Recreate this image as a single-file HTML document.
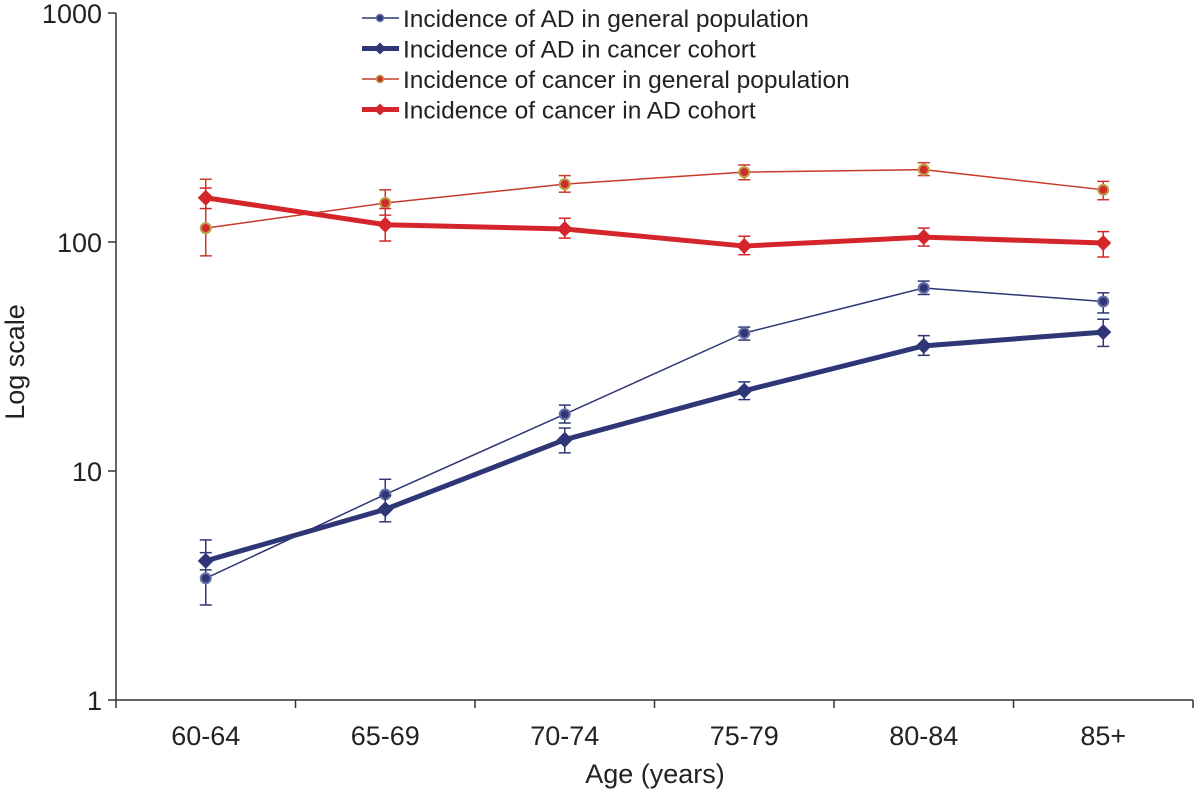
<!DOCTYPE html>
<html><head><meta charset="utf-8"><style>
body{margin:0;background:#fff}
svg{display:block;font-family:"Liberation Sans",Arial,sans-serif}
</style></head><body>
<svg id="chart" width="1200" height="798" viewBox="0 0 1200 798"></svg>
<script>
const categories=["60-64","65-69","70-74","75-79","80-84","85+"];
const yTicks=[1,10,100,1000];
const adGeneral=[3.4,7.9,17.7,40,63,55];
const adGeneralLo=[2.6,6.9,16.2,37.3,59,49];
const adGeneralHi=[5.0,9.2,19.4,42.5,67.5,60];
const adCancer=[4.05,6.8,13.7,22.4,35.2,40.4];
const adCancerLo=[3.7,6.0,12.0,20.5,32,35];
const adCancerHi=[4.4,7.8,15.4,24.5,39,46];
const cancerGeneral=[115,148,179,202,207,169];
const cancerGeneralLo=[87,131,165,187,195,153];
const cancerGeneralHi=[188,169,195,217,222,184];
const cancerAD=[156,119,114,96,105,99];
const cancerADLo=[140,101,104,88,96,86];
const cancerADHi=[172,140,127,106,115,111];

const NS="http://www.w3.org/2000/svg";
const svg=document.getElementById('chart');
const x0=116,x1=1193,yBase=700,decade=229;
const step=(x1-x0)/categories.length;
function xPos(i){return x0+step*(i+0.5);}
function yPos(v){return yBase-Math.log10(v)*decade;}
function mk(tag,attrs,parent){const e=document.createElementNS(NS,tag);for(const k in attrs)e.setAttribute(k,attrs[k]);(parent||svg).appendChild(e);return e;}

const axes=mk('g',{});


mk('line',{x1:x0,y1:yBase,x2:x1,y2:yBase,stroke:'#333','stroke-width':1.5},axes);
mk('line',{x1:x0,y1:yBase,x2:x0,y2:yPos(1000),stroke:'#333','stroke-width':1.5},axes);
yTicks.forEach(t=>{
  const y=yPos(t);
  mk('line',{x1:x0-8,y1:y,x2:x0,y2:y,stroke:'#333','stroke-width':1.5},axes);
  const tx=mk('text',{x:x0-14,y:y+10,'text-anchor':'end','font-size':27,fill:'#222'},axes);
  tx.textContent=t;
  
  
});
for(let i=0;i<=categories.length;i++){
  const x=x0+step*i;
  mk('line',{x1:x,y1:yBase,x2:x,y2:yBase+8,stroke:'#333','stroke-width':1.5},axes);
}
categories.forEach((c,i)=>{
  const tx=mk('text',{x:xPos(i),y:yBase+45,'text-anchor':'middle','font-size':27,fill:'#222'},axes);
  tx.textContent=c;
  
  
});
const xt=mk('text',{x:655,y:783,'text-anchor':'middle','font-size':27,fill:'#222'});
xt.textContent='Age (years)';


const yt=mk('text',{x:0,y:0,'text-anchor':'middle','font-size':27,fill:'#222',transform:'translate(24,362) rotate(-90)'});
yt.textContent='Log scale';



function series(name,vals,lo,hi,color,width,marker,mfill,mstroke){
  const g=mk('g',{});
  
  
  vals.forEach((v,i)=>{
    const x=xPos(i);
    mk('line',{x1:x,y1:yPos(lo[i]),x2:x,y2:yPos(hi[i]),stroke:color,'stroke-width':1.5},g);
    mk('line',{x1:x-6,y1:yPos(lo[i]),x2:x+6,y2:yPos(lo[i]),stroke:color,'stroke-width':1.5},g);
    mk('line',{x1:x-6,y1:yPos(hi[i]),x2:x+6,y2:yPos(hi[i]),stroke:color,'stroke-width':1.5},g);
  });
  mk('polyline',{points:vals.map((v,i)=>xPos(i)+','+yPos(v)).join(' '),fill:'none',stroke:color,'stroke-width':width,'stroke-linejoin':'round'},g);
  vals.forEach((v,i)=>{
    const x=xPos(i),y=yPos(v);
    let m;
    if(marker==='d') m=mk('polygon',{points:`${x},${y-8} ${x+8},${y} ${x},${y+8} ${x-8},${y}`,fill:mfill},g);
    else m=mk('circle',{cx:x,cy:y,r:5,fill:mfill,stroke:mstroke,'stroke-width':2},g);
    
    
  });
}
series('cancer-general-series',cancerGeneral,cancerGeneralLo,cancerGeneralHi,'#c83a2a',1.5,'c','#d22a2a','#b9a14a');
series('cancer-ad-series',cancerAD,cancerADLo,cancerADHi,'#d4262a',5,'d','#d4262a');
series('ad-general-series',adGeneral,adGeneralLo,adGeneralHi,'#2e3676',1.5,'c','#2e3676','#6670a8');
series('ad-cancer-series',adCancer,adCancerLo,adCancerHi,'#2e3676',5,'d','#2e3676');

const legend=[
 ['Incidence of AD in general population','#2e3676',1.5,'c','#2e3676','#6670a8'],
 ['Incidence of AD in cancer cohort','#2e3676',5,'d','#2e3676'],
 ['Incidence of cancer in general population','#c83a2a',1.5,'c','#d22a2a','#b9a14a'],
 ['Incidence of cancer in AD cohort','#d4262a',5,'d','#d4262a']];
const lg=mk('g',{});


legend.forEach((l,k)=>{
  const y=18+k*30.5;
  const e=mk('g',{},lg);
  
  
  mk('line',{x1:362,y1:y,x2:399,y2:y,stroke:l[1],'stroke-width':l[2]},e);
  if(l[3]==='d') mk('polygon',{points:`380,${y-6} 386,${y} 380,${y+6} 374,${y}`,fill:l[4]},e);
  else mk('circle',{cx:380,cy:y,r:3.5,fill:l[4],stroke:l[5],'stroke-width':1.5},e);
  const t=mk('text',{x:403,y:y+9,'font-size':24.5,fill:'#222'},e);
  t.textContent=l[0];
});
</script>
</body></html>
